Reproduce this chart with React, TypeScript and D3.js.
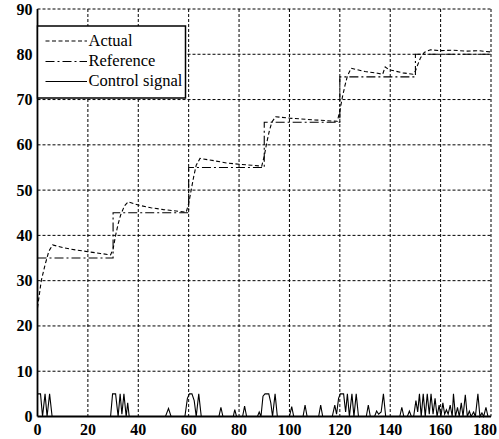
import React from "react";
import * as d3 from "d3";

const xTicks = [0, 20, 40, 60, 80, 100, 120, 140, 160, 180];
const yTicks = [0, 10, 20, 30, 40, 50, 60, 70, 80, 90];
const legendLabels = ["Actual", "Reference", "Control signal"];

// [time, value]
const actual: [number, number][] = [
  [0, 24], [1.5, 30], [3, 33.5], [4.5, 36.5], [6, 37.9], [10, 37.3], [15, 36.8], [20, 36.4],
  [25, 36], [29, 35.7], [30, 37], [31, 40], [32, 42.5], [33, 44.5], [34.5, 46.5], [36, 47.4],
  [40, 46.7], [45, 46.1], [50, 45.7], [55, 45.4], [59, 45.1], [60, 47], [61, 50], [62, 53],
  [63, 55.5], [64.5, 57], [70, 56.5], [75, 56], [80, 55.7], [85, 55.5], [89, 55.3], [90, 57.5],
  [91, 60.5], [92, 63], [93, 65], [94.5, 66.2], [100, 65.9], [110, 65.5], [119, 65.2],
  [120, 67.5], [121, 70.5], [122, 73], [123, 75.2], [124.5, 76.9], [130, 76.2], [135, 75.8],
  [137, 75.6], [138, 77.2], [139.5, 76.6], [145, 75.9], [149, 75.6], [150, 76.3], [151, 77.8],
  [152, 79.2], [153.5, 80.4], [156, 81], [160, 80.8], [165, 80.9], [170, 80.7], [175, 80.8], [180, 80.5]
];

const reference: [number, number][] = [
  [0, 35], [30, 35], [30, 45], [60, 45], [60, 55], [90, 55], [90, 65], [120, 65],
  [120, 75], [150, 75], [150, 80], [180, 80]
];

const control: [number, number][] = [
  [0, 5], [1.2, 5], [2, 0], [3, 5], [3.8, 0], [4.8, 5], [5.8, 0],
  [29, 0], [29.8, 5], [31, 5], [32, 0], [32.8, 5], [33.5, 0.5], [34.3, 5], [35.2, 0], [35.8, 3], [36.4, 0],
  [50.8, 0], [52, 1.8], [53, 0],
  [58.5, 0], [59.5, 4], [60.3, 5], [61.3, 5], [62.2, 3.5], [63, 0], [64, 5], [65, 0],
  [72, 0], [72.8, 2], [73.6, 0],
  [77.7, 0], [78.3, 1.5], [79, 0],
  [81.4, 0], [82.2, 2.3], [83, 0],
  [87.3, 0], [88, 1], [88.7, 0], [89.5, 4.5], [90.3, 5], [91.8, 5], [92.6, 3], [93.3, 0], [94.3, 5], [95.2, 0],
  [100, 0], [100.9, 2.2], [101.7, 0],
  [105.4, 0], [106.2, 2.5], [107, 0],
  [111.6, 0], [112.4, 2.5], [113.2, 0],
  [117, 0], [118, 2.5], [118.7, 0.5], [119.5, 4], [120.2, 5], [121.5, 5], [122.3, 1], [123, 5], [123.8, 0],
  [124.8, 5], [125.6, 0], [126.5, 5], [127.4, 0],
  [130.5, 0], [131.3, 2.5], [132.1, 0],
  [133.8, 0], [134.6, 1.2], [135.4, 0.5], [136.4, 1], [137.3, 5], [138.2, 0],
  [143.8, 0], [144.6, 2], [145.4, 0],
  [146.8, 0], [147.6, 1.2], [148.4, 0],
  [149.3, 0], [150.2, 3.5], [150.9, 1], [151.6, 5], [152.3, 0], [153.1, 5], [153.9, 0], [154.7, 5],
  [155.5, 0.5], [156.2, 5], [157, 0.5], [157.8, 4], [158.6, 0], [159.4, 2.5], [160.1, 0], [160.9, 3],
  [161.6, 0.5], [162.3, 1.5], [163, 0.5], [163.8, 2.5], [164.6, 0], [165.1, 5], [165.9, 0], [166.7, 2],
  [167.4, 0], [168.2, 3], [168.9, 0], [169.8, 4.8], [170.6, 0], [171.4, 1.2], [172.1, 0], [173.1, 1],
  [173.8, 0], [174.8, 5], [175.6, 0], [176.4, 0.8], [177.1, 0], [178, 2], [178.8, 0], [180, 0]
];

const W = 499;
const H = 439;
const left = 37.5;
const right = 491;
const top = 9;
const bottom = 416.5;
const FONT = "'Liberation Serif', 'Times New Roman', serif";

export default function App() {
  const x = d3.scaleLinear().domain([0, 180]).range([left, right]);
  const y = d3.scaleLinear().domain([0, 90]).range([bottom, top]);
  const line = d3
    .line<[number, number]>()
    .x((d) => x(d[0]))
    .y((d) => y(d[1]));

  const lx = left;
  const ly = 26;
  const lw = 148;
  const lh = 72;
  const rows = [41, 61.5, 81.5];
  const dashes = ["4,2.5", "9,3,2,3", ""];

  return (
    <div style={{ position: "absolute", left: 0, top: 0 }}>
      <svg width={W} height={H} style={{ display: "block", background: "#fff" }}>
        <rect width={W} height={H} fill="#fff" />
        {/* grid */}
        {xTicks.slice(1).map((t) => (
          <line key={"gx" + t} x1={x(t)} x2={x(t)} y1={top} y2={bottom} stroke="#000" strokeWidth={1} strokeDasharray="3,2" />
        ))}
        {yTicks.slice(1).map((t) => (
          <line key={"gy" + t} x1={left} x2={right} y1={y(t)} y2={y(t)} stroke="#000" strokeWidth={1} strokeDasharray="3,2" />
        ))}
        {/* data */}
        <path d={line(reference) || ""} fill="none" stroke="#000" strokeWidth={1.1} strokeDasharray="9,3,2,3" />
        <path d={line(actual) || ""} fill="none" stroke="#000" strokeWidth={1.1} strokeDasharray="4,2.5" />
        <path d={line(control) || ""} fill="none" stroke="#000" strokeWidth={1.1} />
        {/* axes */}
        <line x1={left} x2={left} y1={top} y2={bottom} stroke="#000" strokeWidth={1.8} />
        <line x1={left} x2={right} y1={bottom} y2={bottom} stroke="#000" strokeWidth={1.8} />
        {yTicks.map((t) => (
          <text key={"yl" + t} x={32.5} y={y(t) + 5.5} textAnchor="end" fontFamily={FONT} fontSize={16} fontWeight="bold" fill="#000">
            {t}
          </text>
        ))}
        {xTicks.map((t, i) => (
          <text
            key={"xl" + t}
            x={i === xTicks.length - 1 ? W - 2 : x(t)}
            y={435}
            textAnchor={i === xTicks.length - 1 ? "end" : "middle"}
            fontFamily={FONT}
            fontSize={16}
            fontWeight="bold"
            fill="#000"
          >
            {t}
          </text>
        ))}
        {/* legend */}
        <rect x={lx} y={ly} width={lw} height={lh} fill="#fff" stroke="#000" strokeWidth={1.5} />
        {legendLabels.map((lab, i) => (
          <g key={lab}>
            <line x1={45.5} x2={87} y1={rows[i]} y2={rows[i]} stroke="#000" strokeWidth={1.1} strokeDasharray={dashes[i] || undefined} />
            <text x={88.5} y={rows[i] + 4.5} fontFamily={FONT} fontSize={16.5} fill="#000">
              {lab}
            </text>
          </g>
        ))}
      </svg>
    </div>
  );
}
